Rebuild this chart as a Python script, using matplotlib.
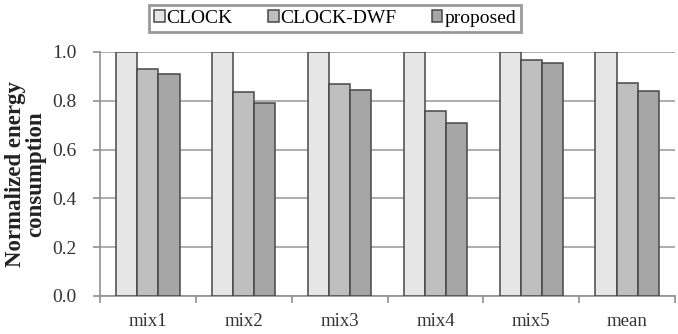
import matplotlib
matplotlib.use("Agg")
import matplotlib.pyplot as plt
import numpy as np

categories = ["mix1", "mix2", "mix3", "mix4", "mix5", "mean"]
series_names = ["CLOCK", "CLOCK-DWF", "proposed"]
clock = [1.0, 1.0, 1.0, 1.0, 1.0, 1.0]
clock_dwf = [0.929, 0.837, 0.868, 0.758, 0.967, 0.872]
proposed = [0.911, 0.790, 0.844, 0.710, 0.954, 0.841]
yticks = [0.0, 0.2, 0.4, 0.6, 0.8, 1.0]

colors = ["#e6e6e6", "#bfbfbf", "#a6a6a6"]
plt.rcParams['font.family'] = ['Liberation Serif', 'DejaVu Serif']

fig = plt.figure(figsize=(6.78, 3.34), dpi=100)
ax = fig.add_axes([100/678, 1 - 296/334, 575/678, 244/334])

x = np.arange(len(categories))
w = 0.22
for i, (vals, c, name) in enumerate(zip([clock, clock_dwf, proposed], colors, series_names)):
    ax.bar(x + (i - 1) * w, vals, width=w, color=c, edgecolor="#484848",
           linewidth=1.1, label=name, zorder=3)

ax.set_xlim(-0.5, len(categories) - 0.5)
ax.set_ylim(0, 1.0)
ax.set_yticks(yticks)
ax.set_yticklabels([f"{v:.1f}" for v in yticks], fontsize=14, color="#333333")
ax.yaxis.grid(True, color="#a0a0a0", linewidth=1.2, zorder=0)
ax.set_axisbelow(True)

ax.set_xticks(x)
ax.set_xticklabels(categories, fontsize=13.5, color="#333333")
ax.tick_params(axis='x', length=0, pad=12)
ax.set_xticks(np.arange(-0.5, len(categories), 1.0), minor=True)
ax.tick_params(axis='x', which='minor', length=5, direction='out', color="#909090", width=1.2)
ax.tick_params(axis='y', length=5, direction='out', color="#909090", width=1.2, pad=12)

for s in ["top", "right"]:
    ax.spines[s].set_visible(False)
for s in ["left", "bottom"]:
    ax.spines[s].set_color("#909090")
    ax.spines[s].set_linewidth(1.2)

ax.set_ylabel("Normalized energy\nconsumption", fontsize=16.5, fontweight="bold",
              color="#222222", linespacing=0.95, labelpad=4)

leg = fig.legend(loc="upper center", bbox_to_anchor=(335/678, 1 + 1/334), ncol=3,
                 fontsize=14, frameon=True, fancybox=False, handlelength=0.55,
                 handleheight=0.55, handletextpad=0.1, columnspacing=1.8,
                 borderpad=0.25, borderaxespad=0.3, edgecolor="#808080")
leg.get_frame().set_linewidth(2.0)

fig.savefig("out.png", dpi=100)
